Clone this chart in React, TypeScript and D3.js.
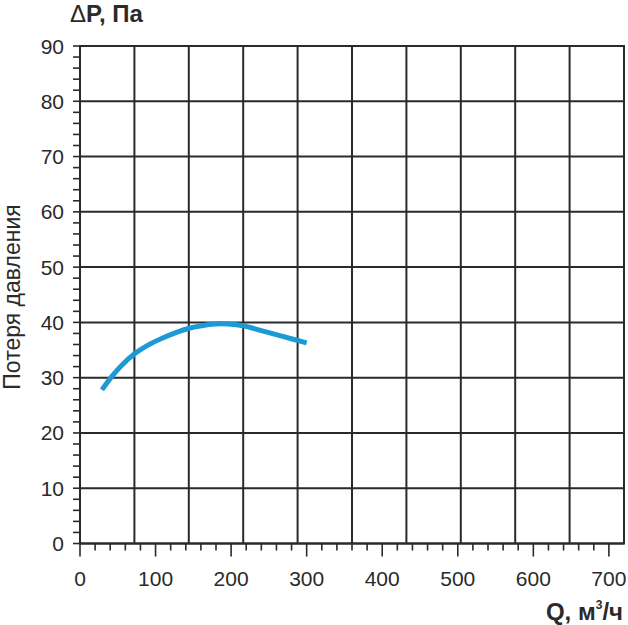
import React from "react";
import * as d3 from "d3";

const flowQ = [29, 42, 55, 73, 90, 108, 126, 143, 161, 179, 196, 216, 240, 267, 300];
const pressure = [27.8, 30.2, 32.2, 34.4, 35.9, 37.1, 38.1, 38.9, 39.4, 39.7, 39.7, 39.4, 38.5, 37.5, 36.3];
const xTickLabels = [0, 100, 200, 300, 400, 500, 600, 700];
const yTickLabels = [0, 10, 20, 30, 40, 50, 60, 70, 80, 90];

const W = 628, H = 625;
const L = 80, R = 624, T = 46, B = 543.5;
const ink = "#2a2a2a";
const font = "'Liberation Sans', Arial, sans-serif";

export default function App() {
  const x = d3.scaleLinear().domain([0, 720]).range([L, R]);
  const y = d3.scaleLinear().domain([0, 90]).range([B, T]);
  const gridX = d3.range(1, 10).map((i) => (720 / 10) * i);
  const minorX = d3.range(0, 701, 20);
  const minorY = d3.range(0, 91, 2);
  const line = d3
    .line<number>()
    .x((_, i) => x(flowQ[i]))
    .y((d) => y(d))
    .curve(d3.curveCatmullRom.alpha(0.5));

  return (
    <svg width={W} height={H} style={{ position: "absolute", left: 0, top: 0, background: "#fff" }} fontFamily={font}>
      {yTickLabels.map((v) => (
        <line key={"h" + v} x1={L} x2={R} y1={y(v)} y2={y(v)} stroke={ink} strokeWidth={2} />
      ))}
      {gridX.map((v) => (
        <line key={"v" + v} x1={x(v)} x2={x(v)} y1={T} y2={B} stroke={ink} strokeWidth={2} />
      ))}
      <rect x={L} y={T} width={R - L} height={B - T} fill="none" stroke={ink} strokeWidth={2} />
      {minorY.map((v) => (
        <line key={"yt" + v} x1={L - 7} x2={L} y1={y(v)} y2={y(v)} stroke={ink} strokeWidth={1.6} />
      ))}
      {minorX.map((v) => (
        <line key={"xt" + v} x1={x(v)} x2={x(v)} y1={B} y2={B + (v % 100 === 0 ? 13 : 7)} stroke={ink} strokeWidth={1.6} />
      ))}
      {yTickLabels.map((v) => (
        <text key={"yl" + v} x={64} y={y(v) + 7.5} textAnchor="end" fontSize={21} fill={ink}>
          {v}
        </text>
      ))}
      {xTickLabels.map((v) => (
        <text key={"xl" + v} x={x(v)} y={586} textAnchor="middle" fontSize={21} fill={ink}>
          {v}
        </text>
      ))}
      <path d={line(pressure) || ""} fill="none" stroke="#1b9ad6" strokeWidth={5} />
      <text x={70} y={22} fontSize={24} fontWeight="bold" fill={ink}>
        <tspan fontWeight="normal">Δ</tspan>P, Па
      </text>
      <text x={623} y={620} textAnchor="end" fontSize={24} fontWeight="bold" fill={ink}>
        Q, м<tspan fontSize={12} dy={-11}>3</tspan>
        <tspan dy={11}>/ч</tspan>
      </text>
      <text transform={`translate(20,${297}) rotate(-90)`} textAnchor="middle" fontSize={23} fill={ink}>
        Потеря давления
      </text>
    </svg>
  );
}
